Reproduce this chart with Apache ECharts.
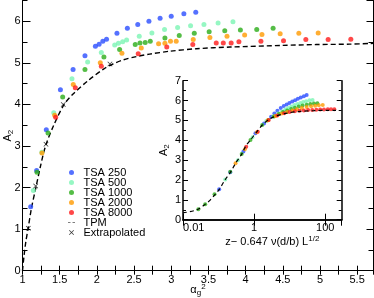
<!DOCTYPE html>
<html><head><meta charset="utf-8">
<script src="https://cdn.jsdelivr.net/npm/echarts@6/dist/echarts.min.js"></script>
<style>html,body{margin:0;padding:0;background:#fff}#c{width:374px;height:298px}</style>
</head><body><div id="c"></div>
<script>
// ---- main plot data (alpha_g^2, A_2) ----
const tsa250 = [[1.11,1.54],[1.19,2.41],[1.32,3.39],[1.51,4.35],[1.68,4.84],[1.84,5.17],[1.98,5.40],[2.03,5.45],[2.08,5.52],[2.13,5.57],[2.27,5.71],[2.41,5.83],[2.55,5.92],[2.70,6.00],[2.85,6.07],[3.00,6.12],[3.17,6.18],[3.33,6.22]];
const tsa500 = [[1.146,1.93],[1.26,2.85],[1.42,3.80],[1.665,4.62],[1.876,5.02],[2.06,5.25],[2.24,5.43],[2.29,5.47],[2.347,5.51],[2.40,5.55],[2.57,5.64],[2.74,5.72],[2.91,5.80],[3.086,5.85],[3.26,5.89],[3.44,5.92],[3.63,5.96],[3.83,5.99]];
const tsa1000 = [[1.195,2.37],[1.343,3.31],[1.54,4.18],[1.84,4.84],[2.095,5.14],[2.306,5.32],[2.516,5.44],[2.58,5.48],[2.65,5.49],[2.718,5.52],[2.915,5.60],[3.108,5.66],[3.31,5.71],[3.51,5.75],[3.72,5.77],[3.93,5.79],[4.15,5.80],[4.37,5.83]];
const tsa2000 = [[1.262,2.83],[1.433,3.74],[1.683,4.48],[2.046,5.00],[2.337,5.23],[2.597,5.36],[2.83,5.46],[2.915,5.47],[2.99,5.52],[3.067,5.52],[3.296,5.56],[3.52,5.61],[3.75,5.64],[3.987,5.67],[4.22,5.68],[4.465,5.70],[4.716,5.71],[4.976,5.72]];
const tsa8000 = [[1.446,3.69],[1.71,4.40],[2.06,4.92],[2.556,5.22],[2.94,5.38],[3.29,5.44],[3.605,5.48],[3.70,5.48],[3.806,5.48],[3.91,5.51],[4.206,5.52],[4.51,5.53],[4.81,5.56],[5.11,5.56],[5.415,5.57]];
const tpm = [[1.0,0],[1.02,0.35],[1.045,0.7],[1.074,1.0],[1.12,1.5],[1.18,2.0],[1.24,2.5],[1.31,3.0],[1.42,3.5],[1.56,4.0],[1.68,4.25],[1.88,4.57],[2.09,4.85],[2.2,4.96],[2.35,5.07],[2.53,5.15],[2.71,5.21],[2.98,5.28],[3.34,5.34],[3.79,5.38],[4.5,5.42],[4.95,5.44],[5.4,5.45],[5.72,5.47]];
const extrapolated = [[1.078,1.02],[1.177,2.04],[1.316,3.04],[1.548,4.0],[2.176,4.97]];

// ---- inset data (z - 0.647 v(d/b) L^1/2, A_2) ----
const in250 = [[0.104,1.53],[0.213,2.39],[0.5,3.44],[1.09,4.35],[1.9,4.85],[3.0,5.19],[3.7,5.35],[4.5,5.49],[5.6,5.62],[6.8,5.72],[8.2,5.80],[9.8,5.88],[11.8,5.95],[14.2,6.02],[17,6.09],[20.5,6.16],[25,6.22],[30,6.28]];
const in500 = [[0.154,2.03],[0.35,3.0],[0.9,4.15],[2.2,4.97],[3.5,5.2],[4.8,5.35],[6,5.45],[7.5,5.55],[9,5.62],[11,5.70],[13.5,5.77],[16.5,5.83],[20,5.88],[24,5.93],[29,5.97],[36,6.01],[44,6.03]];
const in1000 = [[0.027,0.52],[0.042,0.78],[0.077,1.28],[0.213,2.42],[0.447,3.31],[0.79,4.01],[1.69,4.77],[2.5,5.02],[3.6,5.2],[5,5.32],[6.5,5.42],[8.5,5.5],[11,5.57],[14,5.64],[18,5.7],[23,5.75],[30,5.79],[38,5.83],[48,5.85],[60,5.86]];
const in2000 = [[0.30,2.84],[0.55,3.55],[1.2,4.4],[2.4,5.0],[4,5.22],[6,5.35],[8.5,5.43],[12,5.5],[16,5.56],[22,5.62],[30,5.67],[40,5.71],[52,5.74],[66,5.76],[85,5.77]];
const in8000 = [[0.60,3.68],[1.27,4.43],[2.58,5.02],[4.5,5.25],[7,5.36],[10,5.42],[14,5.46],[19,5.49],[25,5.5],[33,5.52],[43,5.53],[56,5.54],[72,5.55],[92,5.55],[118,5.56],[145,5.56],[180,5.56]];
const inTpm = [[0.01,0.34],[0.025,0.5],[0.041,0.76],[0.059,1.0],[0.079,1.26],[0.106,1.54],[0.151,2.0],[0.218,2.4],[0.30,2.84],[0.447,3.3],[0.578,3.7],[0.80,4.03],[1.16,4.40],[1.72,4.78],[2.76,5.08],[3.59,5.18],[8.6,5.37],[20.5,5.46],[48.7,5.49],[117,5.51],[200,5.51]];

const seriesNames = ['TSA 250','TSA 500','TSA 1000','TSA 2000','TSA 8000'];
const colors = ['#2b4dff','#7cf5b4','#2aad18','#ff9a00','#ff1a1a'];
const mainSets = [tsa250,tsa500,tsa1000,tsa2000,tsa8000];
const insetSets = [in250,in500,in1000,in2000,in8000];

const FONT = 'Liberation Sans';
const X_SYM = 'path://M0,1L1,0L5,4L9,0L10,1L6,5L10,9L9,10L5,6L1,10L0,9L4,5Z';
const DASH_ICON = 'path://M0,0L0,0M0,4.3H5V5.7H0ZM9,4.3H14V5.7H9ZM14,10L14,10';
const rich = {
  a:{fontSize:11,fontFamily:FONT,color:'#000'},
  sub:{fontSize:8,fontFamily:FONT,color:'#000',padding:[6,0,0,0]},
  sup:{fontSize:8,fontFamily:FONT,color:'#000',padding:[0,0,7,0]}
};

const chart = echarts.init(document.getElementById('c'), null, {renderer:'canvas'});
const axLine = {show:true,lineStyle:{color:'#000',width:1}};
const axLineIn = {show:true,lineStyle:{color:'#000',width:1.5}};
const labelStyle = {fontSize:11,fontFamily:FONT,color:'#000'};

const series = [];
mainSets.forEach((d,i)=>series.push({name:seriesNames[i],type:'scatter',xAxisIndex:0,yAxisIndex:0,data:d,symbol:'circle',symbolSize:5,itemStyle:{color:colors[i]},z:3}));
series.push({name:'TPM',type:'line',xAxisIndex:0,yAxisIndex:0,data:tpm,smooth:0.3,symbol:'none',lineStyle:{color:'#000',width:1.4,type:[5,3]},itemStyle:{color:'#000'},z:2});
series.push({name:'Extrapolated',type:'scatter',xAxisIndex:0,yAxisIndex:0,data:extrapolated,symbol:X_SYM,symbolSize:5,itemStyle:{color:'#000'},z:4});
insetSets.forEach((d,i)=>series.push({name:seriesNames[i],type:'scatter',xAxisIndex:2,yAxisIndex:4,data:d,symbol:'circle',symbolSize:4,itemStyle:{color:colors[i]},z:5}));
series.push({name:'TPM',type:'line',xAxisIndex:2,yAxisIndex:4,data:inTpm,smooth:0.3,symbol:'none',lineStyle:{color:'#000',width:1.2,type:[4,3]},itemStyle:{color:'#000'},z:6});

chart.setOption({
  animation:false,
  backgroundColor:'#fff',
  textStyle:{fontFamily:FONT},
  grid:[
    {left:22.5,right:0.5,top:0.5,bottom:27.3,containLabel:false,outerBoundsMode:'none'},
    {left:183,right:32.3,top:80.7,bottom:78.3,containLabel:false,outerBoundsMode:'none',show:true,backgroundColor:'#fff',borderWidth:0}
  ],
  legend:{
    left:63,top:162,orient:'vertical',itemWidth:14,itemHeight:5,itemGap:-1,
    textStyle:{fontSize:11,fontFamily:FONT,color:'#000',lineHeight:10},
    data:['TSA 250','TSA 500','TSA 1000','TSA 2000','TSA 8000',{name:'TPM',icon:DASH_ICON,itemStyle:{color:'#000'}},'Extrapolated']
  },
  xAxis:[
    {type:'value',gridIndex:0,min:1,max:5.72,interval:0.25,position:'bottom',
     axisLine:axLine,axisTick:{inside:true,length:5,lineStyle:{color:'#000'}},
     axisLabel:Object.assign({margin:4,showMaxLabel:false,formatter:v=>(v%0.5===0?String(v):'')},labelStyle),
     splitLine:{show:false},
     name:'{a|α}{sub|g}{sup|2}',nameLocation:'middle',nameGap:12,nameMoveOverlap:false,nameTextStyle:{rich:rich}},
    {type:'value',gridIndex:0,min:1,max:5.72,interval:0.25,position:'top',
     axisLine:axLine,axisTick:{inside:true,length:4,lineStyle:{color:'#000'}},axisLabel:{show:false},splitLine:{show:false}},
    {type:'log',logBase:100,gridIndex:1,min:0.01,max:290,position:'bottom',
     axisLine:axLineIn,axisTick:{inside:true,length:6,lineStyle:{color:'#000',width:1}},
     axisLabel:Object.assign({margin:3,showMaxLabel:false,alignMinLabel:'left'},labelStyle),
     splitLine:{show:false},minorSplitLine:{show:false},
     name:'z− 0.647 ν(d/b) L{sup|1/2}',nameLocation:'middle',nameGap:10,
     nameTextStyle:{fontSize:11,fontFamily:FONT,color:'#000',padding:[0,0,0,20],rich:{sup:{fontSize:8,fontFamily:FONT,color:'#000',padding:[0,0,7,0]}}}},
    {type:'log',logBase:100,gridIndex:1,min:0.01,max:290,position:'top',
     axisLine:axLineIn,axisTick:{inside:true,length:6,lineStyle:{color:'#000',width:1}},axisLabel:{show:false},splitLine:{show:false}}
  ],
  yAxis:[
    {type:'value',gridIndex:0,min:0,max:6.5,interval:1,position:'left',
     axisLine:axLine,axisTick:{inside:true,length:8,lineStyle:{color:'#000'}},
     axisLabel:Object.assign({margin:2,showMaxLabel:false},labelStyle),splitLine:{show:false},
     name:'{a|A}{sub|2}',nameLocation:'middle',nameGap:8,nameMoveOverlap:false,nameRotate:90,nameTextStyle:{rich:rich}},
    {type:'value',gridIndex:0,min:0,max:6.5,interval:0.5,position:'left',offset:0,
     axisLine:{show:false},axisTick:{inside:true,length:5,lineStyle:{color:'#000'}},axisLabel:{show:false},splitLine:{show:false}},
    {type:'value',gridIndex:0,min:0,max:6.5,interval:1,position:'right',
     axisLine:axLine,axisTick:{inside:true,length:7,lineStyle:{color:'#000'}},axisLabel:{show:false},splitLine:{show:false}},
    {type:'value',gridIndex:0,min:0,max:6.5,interval:0.5,position:'right',offset:0,
     axisLine:{show:false},axisTick:{inside:true,length:5,lineStyle:{color:'#000'}},axisLabel:{show:false},splitLine:{show:false}},
    {type:'value',gridIndex:1,min:0,max:7,interval:1,position:'left',
     axisLine:axLineIn,axisTick:{inside:true,length:5,lineStyle:{color:'#000',width:1}},
     minorTick:{show:true,splitNumber:2,length:3,lineStyle:{color:'#000'}},
     axisLabel:Object.assign({margin:2},labelStyle),splitLine:{show:false},
     name:'{a|A}{sub|2}',nameLocation:'middle',nameGap:10,nameRotate:90,nameTextStyle:{rich:rich}},
    {type:'value',gridIndex:1,min:0,max:7,interval:1,position:'right',
     axisLine:axLineIn,axisTick:{inside:true,length:5,lineStyle:{color:'#000',width:1}},
     minorTick:{show:true,splitNumber:2,length:3,lineStyle:{color:'#000'}},
     axisLabel:{show:false},splitLine:{show:false}}
  ],
  series:series
});
</script></body></html>
